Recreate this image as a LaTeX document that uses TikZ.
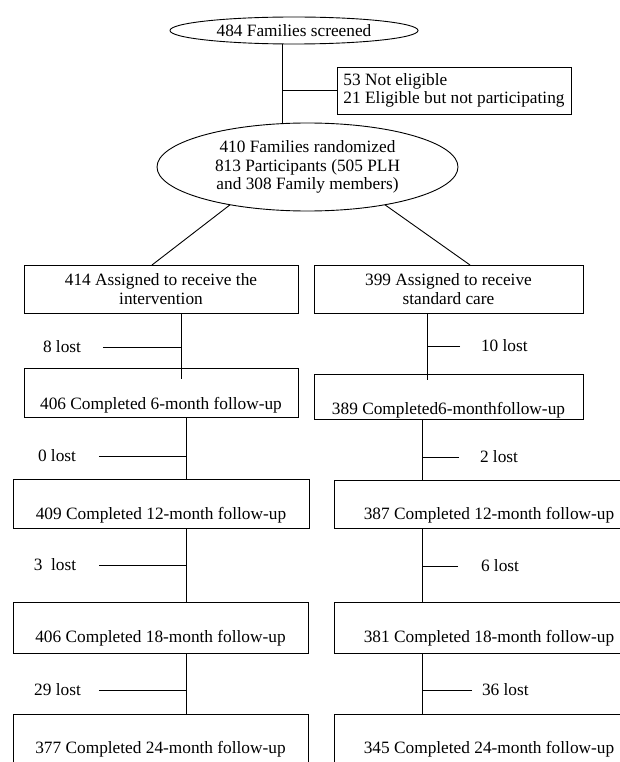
\documentclass[tikz,border=0pt]{standalone}
\usepackage{fontspec}
\setmainfont{Liberation Serif}
\usetikzlibrary{shapes.geometric}

\tikzset{
  oval/.style={draw, ellipse, inner sep=0pt, outer sep=0pt, align=center},
  box/.style={draw, rectangle, inner sep=0pt, outer sep=0pt, align=center},
  fu/.style={box, inner ysep=0pt},
  lost/.style={inner sep=0pt, outer sep=0pt},
}

\begin{document}
\begin{tikzpicture}[x=1pt, y=-1pt, line width=0.9pt,
  every node/.style={font=\fontsize{17.3pt}{18.5pt}\selectfont}]
\useasboundingbox (0,0) rectangle (620,762);

% Screening and randomisation
\node[oval, minimum width=248pt, minimum height=27pt] (screened) at (294,30.5) {484 Families screened};
\node[box, align=left, inner xsep=6.5pt, minimum height=47pt] (excl) at (454,90.5)
  {53 Not eligible\\21 Eligible but not participating};
\node[oval, minimum width=301pt, minimum height=88pt] (rand) at (307.5,167)
  {410 Families randomized\\813 Participants (505 PLH\\and 308 Family members)};

\coordinate (xt) at (282,0);
\draw (screened.south -| xt) -- (rand.north -| xt);
\draw (excl.west -| xt) -- (excl.west);

% The two arms
\node[box, minimum width=274pt, minimum height=48pt] (intv) at (161,289)
  {414 Assigned to receive the\\intervention};
\node[box, minimum width=269pt, minimum height=48pt] (std) at (448.5,289)
  {399 Assigned to receive\\standard care};

\draw (rand.-154) -- ([xshift=-9pt]intv.north);
\draw (rand.-26) -- ([xshift=21.5pt]std.north);

% Follow-up boxes, intervention arm (A) and standard care (B)
\node[fu, anchor=north, minimum width=274pt, text height=41.5pt, text depth=7.5pt] (fuA6) at (161,368)
  {406 Completed 6-month follow-up};
\node[fu, anchor=north, minimum width=269pt, text height=40.5pt, text depth=4.5pt] (fuB6) at (448.5,374)
  {389 Completed6-monthfollow-up};
\node[fu, anchor=north, minimum width=296pt, text height=40.5pt, text depth=8.5pt] (fuA12) at (161,479)
  {409 Completed 12-month follow-up};
\node[fu, anchor=north, minimum width=310pt, text height=39.5pt, text depth=8.5pt] (fuB12) at (489,480)
  {387 Completed 12-month follow-up};
\node[fu, anchor=north, minimum width=295pt, text height=40.5pt, text depth=10.5pt] (fuA18) at (160.5,602)
  {406 Completed 18-month follow-up};
\node[fu, anchor=north, minimum width=310pt, text height=40.5pt, text depth=10.5pt] (fuB18) at (489,602)
  {381 Completed 18-month follow-up};
\node[fu, anchor=north, minimum width=295pt, text height=39.5pt, text depth=16.5pt] (fuA24) at (160.5,714)
  {377 Completed 24-month follow-up};
\node[fu, anchor=north, minimum width=310pt, text height=39.5pt, text depth=16.5pt] (fuB24) at (489,714)
  {345 Completed 24-month follow-up};

% Trunk lines
\coordinate (xa) at (181,0);
\coordinate (xb) at (186,0);
\coordinate (xc) at (427,0);
\coordinate (xd) at (422,0);

\path (fuA6.north -| xa) ++(0,11) coordinate (a1);
\path (fuB6.north -| xc) ++(0,6) coordinate (b1);
\draw (intv.south -| xa) -- (a1);
\draw (std.south -| xc) -- (b1);
\foreach \u/\v in {fuA6/fuA12, fuA12/fuA18, fuA18/fuA24}
  \draw (\u.south -| xb) -- (\v.north -| xb);
\foreach \u/\v in {fuB6/fuB12, fuB12/fuB18, fuB18/fuB24}
  \draw (\u.south -| xd) -- (\v.north -| xd);

% Losses to follow-up
\node[lost] (lostA6) at (62,347) {8 lost};
\node[lost] (lostA12) at (57,456) {0 lost};
\node[lost] (lostA18) at (55,565) {3\ \ lost};
\node[lost] (lostA24) at (57.5,690) {29 lost};
\node[lost, anchor=west] (lostB6) at (481,346) {10 lost};
\node[lost, anchor=west] (lostB12) at (480,457) {2 lost};
\node[lost, anchor=west] (lostB18) at (481,566) {6 lost};
\node[lost, anchor=west] (lostB24) at (482,690) {36 lost};

\draw ([xshift=22pt]lostA6.east) -- (lostA6 -| xa);
\draw ([xshift=23pt]lostA12.east) -- (lostA12 -| xb);
\draw ([xshift=23pt]lostA18.east) -- (lostA18 -| xb);
\draw ([xshift=18pt]lostA24.east) -- (lostA24 -| xb);
\draw ([xshift=-21pt]lostB6.west) -- (lostB6 -| xc);
\draw ([xshift=-21pt]lostB12.west) -- (lostB12 -| xd);
\draw ([xshift=-23pt]lostB18.west) -- (lostB18 -| xd);
\draw ([xshift=-10pt]lostB24.west) -- (lostB24 -| xd);

\end{tikzpicture}
\end{document}
